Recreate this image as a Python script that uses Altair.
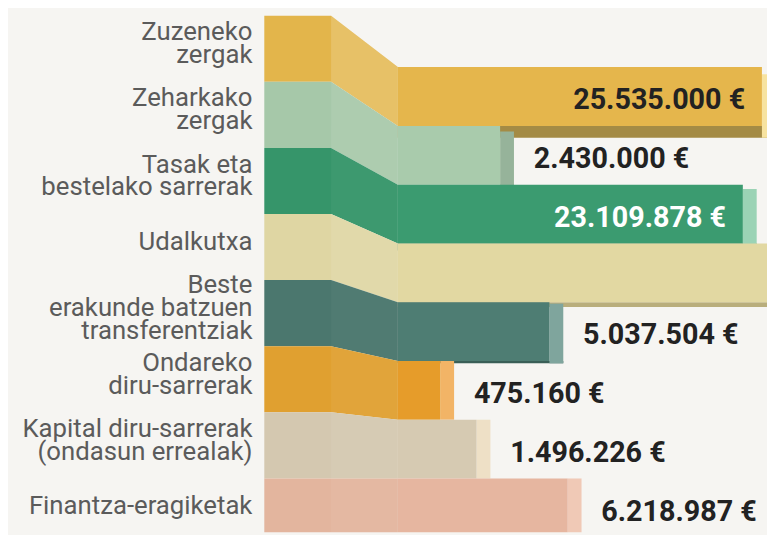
import altair as alt
import pandas as pd

# ---------------- data ----------------
categories = [
    "Zuzeneko zergak",
    "Zeharkako zergak",
    "Tasak eta bestelako sarrerak",
    "Udalkutxa",
    "Beste erakunde batzuen transferentziak",
    "Ondareko diru-sarrerak",
    "Kapital diru-sarrerak (ondasun errealak)",
    "Finantza-eragiketak",
]
category_lines = [
    "Zuzeneko\nzergak",
    "Zeharkako\nzergak",
    "Tasak eta\nbestelako sarrerak",
    "Udalkutxa",
    "Beste\nerakunde batzuen\ntransferentziak",
    "Ondareko\ndiru-sarrerak",
    "Kapital diru-sarrerak\n(ondasun errealak)",
    "Finantza-eragiketak",
]
# euros; Udalkutxa is cut off in the picture (estimated, label not shown)
values = [25535000, 2430000, 23109878, 32000000, 5037504, 475160, 1496226, 6218987]
value_visible = [True, True, True, False, True, True, True, True]

# ---------------- style ----------------
front_colors = ["#e5b64c", "#a9cbac", "#3b9b70", "#e2d8a2", "#4e7d73", "#e69c2a", "#d6cab2", "#e6b6a0"]
left_colors = ["#e3b54b", "#a6c8a9", "#36956a", "#dfd6a3", "#4b776e", "#e0a030", "#d4c8b0", "#e3b59e"]
side_colors = ["#f7e3a0", "#96b39a", "#9bd3b5", "#efe7bd", "#7fa59d", "#f2b466", "#eee0c6", "#f0c9b6"]
bottom_colors = ["#a48b45", "#7e9a82", "#2a7050", "#b9ae7c", "#3a5f57", "#b07820", "#a89c86", "#b88c78"]
fold_light = [0.16, 0.08, 0.04, 0.08, 0.03, 0.05, 0.06, 0.05]
inside_text_colors = {"Zuzeneko zergak": "#222222", "Tasak eta bestelako sarrerak": "#ffffff"}
BG = "#f6f5f2"
LABEL_GRAY = "#5b5b5b"
VALUE_DARK = "#222222"
LINE_H = 23

W, H = 767, 527
PX = 66.8                 # px per band on the folded left part
TOP = 5
Y_DOMAIN = [-TOP / PX, (H - TOP) / PX]
R_SHIFT, R_SCALE = 0.778, 0.889   # perspective of the right part (band units)
N = len(categories)

def fmt(v):
    return f"{v:,}".replace(",", ".") + " €"

rows, fold_rows = [], []
for i, c in enumerate(categories):
    rt = R_SHIFT + R_SCALE * i
    rb = rt + R_SCALE
    depth = max(0.0, (12 / PX) * (1 - i / 5))
    inside = values[i] >= 20_000_000
    nlines = category_lines[i].count("\n") + 1
    rows.append(dict(
        category=c, lines=category_lines[i], value=values[i], zero=0, fx0=0,
        ly=i + 0.5 - (nlines - 1) * LINE_H / 2 / PX,
        rt=rt, rb=rb, rc=(rt + rb) / 2, rbd=rb + depth,
        st=rt + 0.6 * depth, sb=rb + depth,
        front=front_colors[i], side=side_colors[i], bottom=bottom_colors[i],
        label=fmt(values[i]), show=value_visible[i], inside=inside,
        tcolor=inside_text_colors.get(c, VALUE_DARK),
    ))
    for fx, t, b in [(0, i, i + 1), (1, i, i + 1), (2, rt, rb)]:
        fold_rows.append(dict(category=c, fx=fx, t=t, b=b, left=left_colors[i], hi=fold_light[i]))

df = pd.DataFrame(rows)
fold_df = pd.DataFrame(fold_rows)

yscale = alt.Scale(domain=Y_DOMAIN, reverse=True, nice=False, zero=False)

# ---------------- folded left part ----------------
xf = alt.Scale(domain=[0, 2], range=[259, 394], nice=False, zero=False)

fold = alt.Chart(fold_df).mark_area(interpolate="linear", clip=True).encode(
    x=alt.X("fx:Q", scale=xf, axis=None),
    y=alt.Y("t:Q", scale=yscale, axis=None, stack=None),
    y2="b:Q",
    fill=alt.Fill("left:N", scale=None),
    detail="category:N",
)
fold_hi = alt.Chart(fold_df).transform_filter("datum.fx >= 1").mark_area(
    interpolate="linear", fill="white", clip=True
).encode(
    x=alt.X("fx:Q", scale=xf, axis=None),
    y=alt.Y("t:Q", scale=yscale, axis=None, stack=None),
    y2="b:Q",
    opacity=alt.Opacity("hi:Q", scale=None),
    detail="category:N",
)
cat_labels = alt.Chart(df).mark_text(
    align="right", baseline="middle", dx=-12, dy=-5, font="Roboto", fontSize=26,
    lineHeight=LINE_H, lineBreak="\n", color=LABEL_GRAY,
).encode(
    x=alt.X("fx0:Q", scale=xf, axis=None),
    y=alt.Y("ly:Q", scale=yscale, axis=None),
    text="lines:N",
)
fold_layer = alt.layer(fold, fold_hi, cat_labels)

# ---------------- horizontal bars ----------------
P_EXP, P_C, D_MAX = 0.54, 0.0368, 40_000_000
xb = alt.Scale(type="pow", exponent=P_EXP, domain=[0, D_MAX],
               range=[394, 394 + P_C * D_MAX ** P_EXP], nice=False, zero=True)

bottom = alt.Chart(df).mark_rect(x2Offset=14, clip=True).encode(
    x=alt.X("zero:Q", scale=xb, axis=None), x2="value:Q",
    y=alt.Y("rb:Q", scale=yscale, axis=None), y2="rbd:Q",
    fill=alt.Fill("bottom:N", scale=None),
)
side = alt.Chart(df).mark_rect(x2Offset=14, clip=True).encode(
    x=alt.X("value:Q", scale=xb, axis=None), x2="value:Q",
    y=alt.Y("st:Q", scale=yscale, axis=None), y2="sb:Q",
    fill=alt.Fill("side:N", scale=None),
)
front = alt.Chart(df).mark_rect(clip=True).encode(
    x=alt.X("zero:Q", scale=xb, axis=None), x2="value:Q",
    y=alt.Y("rt:Q", scale=yscale, axis=None), y2="rb:Q",
    fill=alt.Fill("front:N", scale=None),
)
inside_lbl = alt.Chart(df).transform_filter("datum.show && datum.inside").mark_text(
    align="right", baseline="middle", dx=-17, dy=4, font="Roboto", fontSize=29, fontWeight="bold",
).encode(
    x=alt.X("value:Q", scale=xb, axis=None),
    y=alt.Y("rc:Q", scale=yscale, axis=None),
    text="label:N",
    color=alt.Color("tcolor:N", scale=None),
)
outside_lbl = alt.Chart(df).transform_filter("datum.show && !datum.inside").mark_text(
    align="left", baseline="middle", dx=34, dy=4, font="Roboto", fontSize=29, fontWeight="bold",
    color=VALUE_DARK,
).encode(
    x=alt.X("value:Q", scale=xb, axis=None),
    y=alt.Y("rc:Q", scale=yscale, axis=None),
    text="label:N",
)
bar_layer = alt.layer(bottom, side, front, inside_lbl, outside_lbl)

chart = alt.layer(fold_layer, bar_layer).resolve_scale(x="independent").properties(
    width=W, height=H, padding=0, autosize=alt.AutoSizeParams(type="none"),
).configure(background=BG).configure_view(stroke=None)

chart.save("out.html", embed_options={"renderer": "svg", "actions": False})
